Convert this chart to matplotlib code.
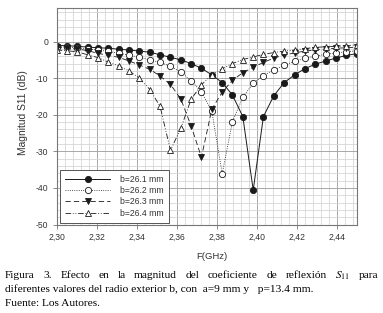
import numpy as np
import matplotlib
matplotlib.use("Agg")
import matplotlib.pyplot as plt
from matplotlib.ticker import MultipleLocator, FuncFormatter

# Frecuencias (GHz), 30 puntos entre 2.30 y 2.45
freq = [2.3000, 2.3052, 2.3103, 2.3155, 2.3207, 2.3259, 2.3310, 2.3362, 2.3414, 2.3466,
        2.3517, 2.3569, 2.3621, 2.3672, 2.3724, 2.3776, 2.3828, 2.3879, 2.3931, 2.3983,
        2.4034, 2.4086, 2.4138, 2.4190, 2.4241, 2.4293, 2.4345, 2.4397, 2.4448, 2.4500]

s11_b261 = [-1.1, -1.1, -1.3, -1.5, -1.7, -1.8, -2.1, -2.3, -2.6, -2.9,
            -3.6, -4.3, -5.0, -6.0, -7.3, -9.1, -11.2, -14.6, -20.5, -40.6,
            -20.5, -14.8, -11.2, -9.1, -7.4, -6.2, -5.3, -4.5, -3.8, -3.3]
s11_b262 = [-1.4, -1.5, -1.7, -2.0, -2.3, -2.7, -3.2, -3.7, -4.3, -5.0,
            -5.7, -6.8, -8.3, -10.7, -13.7, -19.1, -36.1, -21.9, -15.2, -11.4,
            -9.3, -7.7, -6.5, -5.4, -4.6, -4.0, -3.5, -3.1, -2.8, -2.5]
s11_b263 = [-1.6, -1.8, -2.0, -2.5, -3.2, -3.8, -4.3, -5.3, -6.4, -7.6,
            -9.4, -11.7, -15.7, -23.0, -31.6, -18.5, -13.8, -10.6, -8.5, -7.0,
            -5.7, -4.5, -3.7, -3.1, -2.6, -2.3, -2.0, -1.8, -1.7, -1.5]
s11_b264 = [-2.3, -2.5, -2.8, -3.6, -4.4, -5.6, -6.7, -8.0, -10.0, -13.1,
            -17.7, -29.7, -23.7, -15.8, -11.8, -9.1, -7.4, -6.0, -4.9, -4.2,
            -3.5, -3.0, -2.6, -2.3, -1.9, -1.6, -1.4, -1.3, -1.1, -0.9]

labels = ["b=26.1 mm", "b=26.2 mm", "b=26.3 mm", "b=26.4 mm"]

plt.rcParams['font.family'] = ['Liberation Sans', 'DejaVu Sans']
plt.rcParams['lines.scale_dashes'] = False
plt.rcParams['mathtext.fontset'] = 'stix'

fig = plt.figure(figsize=(3.83, 3.13), dpi=100)
ax = fig.add_axes([0.148, 0.2827, 0.783, 0.6908])

lc = '#1a1a1a'
ax.plot(freq, s11_b261, '-', color=lc, lw=0.7, marker='o', ms=4.5,
        mfc=lc, mec=lc, mew=0.6, label=labels[0])
ax.plot(freq, s11_b262, color=lc, lw=0.6, ls=(0, (0.6, 1.0)), marker='o', ms=4.5,
        mfc='white', mec=lc, mew=0.6, label=labels[1])
ax.plot(freq, s11_b263, color=lc, lw=0.6, ls=(0, (3.8, 2.2)), marker='v', ms=4.7,
        mfc=lc, mec=lc, mew=0.6, label=labels[2])
ax.plot(freq, s11_b264, color=lc, lw=0.6, ls=(0, (4.0, 1.3, 0.6, 1.3, 0.6, 1.3)),
        marker='^', ms=4.7, mfc='white', mec=lc, mew=0.6, label=labels[3])

ax.set_xlim(2.30, 2.45)
ax.set_ylim(-50, 9.1)
ax.xaxis.set_major_locator(MultipleLocator(0.02))
ax.xaxis.set_minor_locator(MultipleLocator(0.004))
ax.yaxis.set_major_locator(MultipleLocator(10))
ax.yaxis.set_minor_locator(MultipleLocator(2))
ax.xaxis.set_major_formatter(FuncFormatter(lambda v, p: f"{v:.2f}".replace('.', ',')))
ax.yaxis.set_major_formatter(FuncFormatter(lambda v, p: f"{v:.0f}".replace('\u2212', '-')))
ax.grid(which='major', color='#a8a8a8', lw=0.7)
ax.grid(which='minor', color='#d6d6d6', lw=0.6)
ax.set_axisbelow(True)
ax.tick_params(which='major', length=3, width=0.6, color='#777777',
               labelsize=6.2, labelcolor='#333333', pad=3)
ax.tick_params(which='minor', length=0)
for s in ax.spines.values():
    s.set_color('#777777')
    s.set_linewidth(0.8)

ax.set_xlabel("F(GHz)", fontsize=6.8, color='#333333')
ax.xaxis.set_label_coords(0.516, -0.127)
ax.set_ylabel("Magnitud S11 (dB)", fontsize=7.4, color='#333333')
ax.yaxis.set_label_coords(-0.097, 0.518)

leg = ax.legend(loc='lower left', bbox_to_anchor=(0.011, 0.008), borderaxespad=0,
                fontsize=6.2, handlelength=5.2, handletextpad=1.2, labelspacing=0.25,
                fancybox=False, framealpha=1, edgecolor='#555555', borderpad=0.6)
leg.get_frame().set_linewidth(0.7)
for t in leg.get_texts():
    t.set_color('#333333')

# Pie de figura (texto justificado en la primera linea)
cap_font = dict(family=['Liberation Serif', 'DejaVu Serif'], size=8.2, color='black')
W, H = 383.0, 313.0
x_left, x_right = 5.0, 378.0
words = ["Figura", "3.", "Efecto", "en", "la", "magnitud", "del", "coeficiente",
         "de", "reflexión", "$S_{11}$", "para"]
renderer = fig.canvas.get_renderer()
texts = [fig.text(0, 1 - 278.5 / H, w, **cap_font) for w in words]
widths = [t.get_window_extent(renderer).width for t in texts]
gap = (x_right - x_left - sum(widths)) / (len(words) - 1)
xpos = x_left
for t, w in zip(texts, widths):
    t.set_x(xpos / W)
    xpos += w + gap
fig.text(x_left / W, 1 - 292.3 / H,
         "diferentes valores del radio exterior b, con  a=9 mm y   p=13.4 mm.", **cap_font)
fig.text(x_left / W, 1 - 305.5 / H, "Fuente: Los Autores.", **cap_font)

fig.savefig("out.png", dpi=100)
